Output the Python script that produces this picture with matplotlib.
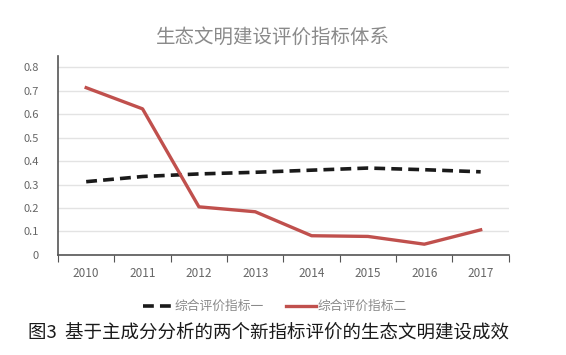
import numpy as np
import matplotlib
matplotlib.use("Agg")
from matplotlib import pyplot as plt

plt.rcParams['font.family'] = ['Noto Sans CJK SC', 'DejaVu Sans']

# data
years = ['2010', '2011', '2012', '2013', '2014', '2015', '2016', '2017']
index1 = [0.312, 0.334, 0.345, 0.352, 0.361, 0.370, 0.363, 0.354]
index2 = [0.712, 0.622, 0.205, 0.184, 0.082, 0.079, 0.046, 0.107]
name1 = '综合评价指标一'
name2 = '综合评价指标二'
title = '生态文明建设评价指标体系'
caption = '图3  基于主成分分析的两个新指标评价的生态文明建设成效'

fig = plt.figure(figsize=(5.66, 3.55), dpi=100)
ax = fig.add_axes([0.1025, 0.2817, 0.7965, 0.5593])

x = np.arange(len(years))
ax.plot(x, index1, color='#1a1a1a', linewidth=2.6, dashes=(3.0, 1.7), label=name1)
ax.plot(x, index2, color='#c0504d', linewidth=2.4, label=name2)

ax.set_xlim(-0.5, len(years) - 0.5)
ax.set_ylim(0, 0.845)
ax.set_yticks(np.arange(0, 0.81, 0.1))
ax.set_yticklabels(['0'] + ['%.1f' % v for v in np.arange(0.1, 0.81, 0.1)])
ax.yaxis.grid(True, color='#e3e3e3', linewidth=1)
ax.set_axisbelow(True)

# categories between tick marks, excel style
ax.set_xticks(np.arange(-0.5, len(years), 1))
ax.set_xticklabels([])
ax.set_xticks(x, minor=True)
ax.set_xticklabels(years, minor=True)
ax.tick_params(axis='x', which='major', length=5, color='#555555', direction='out')
ax.tick_params(axis='x', which='minor', length=0, pad=9, labelsize=8.5, labelcolor='#666666')
ax.tick_params(axis='y', length=0, pad=14, labelsize=8, labelcolor='#666666')

for s in ['top', 'right']:
    ax.spines[s].set_visible(False)
ax.spines['left'].set_color('#555555')
ax.spines['bottom'].set_color('#555555')
ax.spines['left'].set_linewidth(1.2)
ax.spines['bottom'].set_linewidth(1.2)

fig.text(0.483, 0.896, title, ha='center', va='center', fontsize=14, color='#8a8a8a')

ax.legend(loc='center', bbox_to_anchor=(0.481, -0.26), ncol=2, frameon=False,
          fontsize=9.2, handlelength=2.3, handletextpad=0.15, columnspacing=1.8,
          labelcolor='#8a8a8a')

fig.text(0.475, 0.065, caption, ha='center', va='center', fontsize=13.3, color='#1a1a1a')

fig.savefig('out.png', dpi=100)
